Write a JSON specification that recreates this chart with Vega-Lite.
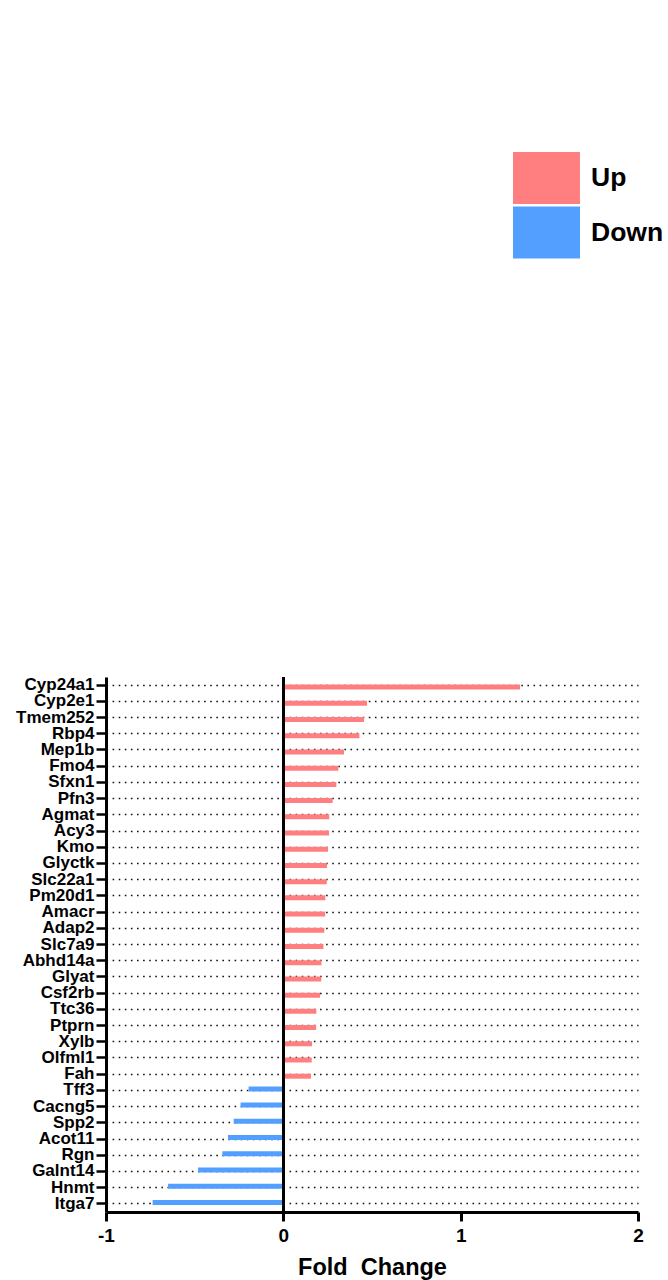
{
  "$schema": "https://vega.github.io/schema/vega-lite/v6.json",
  "autosize": "none",
  "width": 532,
  "height": 535,
  "padding": {"left": 106, "top": 677, "right": 30, "bottom": 68},
  "background": "white",
  "config": {
    "view": {"stroke": null},
    "font": "Liberation Sans"
  },
  "data": {
    "values": [
      {"gene": "Cyp24a1", "fc": 1.335, "dir": "Up"},
      {"gene": "Cyp2e1", "fc": 0.472, "dir": "Up"},
      {"gene": "Tmem252", "fc": 0.455, "dir": "Up"},
      {"gene": "Rbp4", "fc": 0.429, "dir": "Up"},
      {"gene": "Mep1b", "fc": 0.342, "dir": "Up"},
      {"gene": "Fmo4", "fc": 0.31, "dir": "Up"},
      {"gene": "Sfxn1", "fc": 0.299, "dir": "Up"},
      {"gene": "Pfn3", "fc": 0.278, "dir": "Up"},
      {"gene": "Agmat", "fc": 0.259, "dir": "Up"},
      {"gene": "Acy3", "fc": 0.258, "dir": "Up"},
      {"gene": "Kmo", "fc": 0.252, "dir": "Up"},
      {"gene": "Glyctk", "fc": 0.246, "dir": "Up"},
      {"gene": "Slc22a1", "fc": 0.245, "dir": "Up"},
      {"gene": "Pm20d1", "fc": 0.237, "dir": "Up"},
      {"gene": "Amacr", "fc": 0.236, "dir": "Up"},
      {"gene": "Adap2", "fc": 0.231, "dir": "Up"},
      {"gene": "Slc7a9", "fc": 0.226, "dir": "Up"},
      {"gene": "Abhd14a", "fc": 0.215, "dir": "Up"},
      {"gene": "Glyat", "fc": 0.214, "dir": "Up"},
      {"gene": "Csf2rb", "fc": 0.207, "dir": "Up"},
      {"gene": "Ttc36", "fc": 0.186, "dir": "Up"},
      {"gene": "Ptprn", "fc": 0.185, "dir": "Up"},
      {"gene": "Xylb", "fc": 0.162, "dir": "Up"},
      {"gene": "Olfml1", "fc": 0.16, "dir": "Up"},
      {"gene": "Fah", "fc": 0.156, "dir": "Up"},
      {"gene": "Tff3", "fc": -0.196, "dir": "Down"},
      {"gene": "Cacng5", "fc": -0.241, "dir": "Down"},
      {"gene": "Spp2", "fc": -0.28, "dir": "Down"},
      {"gene": "Acot11", "fc": -0.312, "dir": "Down"},
      {"gene": "Rgn", "fc": -0.344, "dir": "Down"},
      {"gene": "Galnt14", "fc": -0.481, "dir": "Down"},
      {"gene": "Hnmt", "fc": -0.65, "dir": "Down"},
      {"gene": "Itga7", "fc": -0.737, "dir": "Down"}
    ]
  },
  "layer": [
    {
      "mark": {"type": "bar", "height": 5, "yOffset": {"expr": "datum.dir == 'Up' ? 2 : -1.5"}},
      "encoding": {
        "y": {
          "field": "gene",
          "type": "nominal",
          "sort": null,
          "scale": {"paddingInner": 0, "paddingOuter": 0},
          "axis": {
            "title": null,
            "grid": true,
            "gridColor": "#111",
            "gridDash": [1.6, 4.5],
            "gridWidth": 1.6,
            "domainColor": "black",
            "domainWidth": 3,
            "tickColor": "black",
            "tickWidth": 2.5,
            "tickSize": 10,
            "labelFont": "Liberation Sans",
            "labelFontWeight": "bold",
            "labelFontSize": 17,
            "labelColor": "black",
            "labelPadding": 2,
            "labelOverlap": false
          }
        },
        "x": {
          "field": "fc",
          "type": "quantitative",
          "scale": {"domain": [-1, 2], "nice": false, "zero": false},
          "axis": {
            "title": "Fold\u00a0 Change",
            "titleFont": "Liberation Sans",
            "titleFontSize": 23.5,
            "titleFontWeight": "bold",
            "titleColor": "black",
            "titlePadding": 10,
            "values": [-1, 0, 1, 2],
            "labelExpr": "datum.value",
            "labelFlush": false,
            "grid": false,
            "domainColor": "black",
            "domainWidth": 3,
            "tickColor": "black",
            "tickWidth": 3,
            "tickSize": 9,
            "labelFont": "Liberation Sans",
            "labelFontWeight": "bold",
            "labelFontSize": 19,
            "labelColor": "black",
            "labelPadding": 5
          }
        },
        "color": {
          "field": "dir",
          "type": "nominal",
          "scale": {"domain": ["Up", "Down"], "range": ["#FF7F80", "#529FFF"]},
          "legend": {
            "title": null,
            "orient": "none",
            "legendX": 414.5,
            "legendY": -525,
            "padding": 0,
            "symbolType": "M-1.288,-1L1.288,-1L1.288,1L-1.288,1Z",
            "symbolSize": 2704,
            "symbolStrokeWidth": 0,
            "symbolOpacity": 1,
            "labelFont": "Liberation Sans",
            "labelFontWeight": "bold",
            "labelFontSize": 26.5,
            "labelColor": "black",
            "labelOffset": 18.5,
            "rowPadding": 2.5
          }
        }
      }
    },
    {
      "mark": {"type": "rule", "color": "black", "strokeWidth": 2.5},
      "encoding": {"x": {"datum": 0}}
    }
  ]
}
